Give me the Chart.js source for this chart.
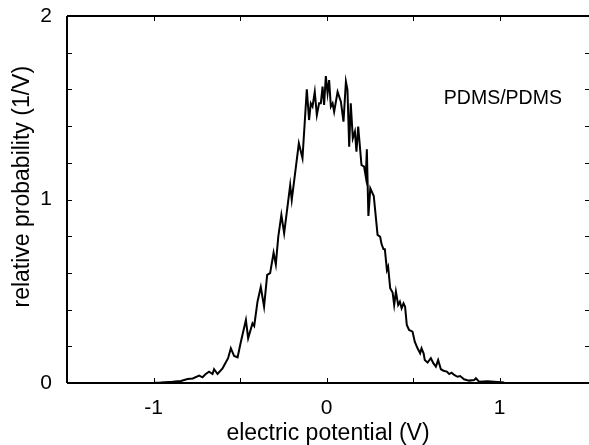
<!DOCTYPE html>
<html>
<head>
<meta charset="utf-8">
<script src="https://cdn.jsdelivr.net/npm/chart.js@4.4.0/dist/chart.umd.min.js"></script>
<style>
  html, body { margin: 0; padding: 0; background: #fff; overflow: hidden; }
  #wrap { width: 589px; height: 445px; position: relative; }
</style>
</head>
<body>
<div id="wrap"><canvas id="c" width="589" height="445"></canvas></div>
<script>
// ---- data ----
const potential = [
  -0.997,-0.958,-0.890,-0.842,-0.803,-0.773,-0.736,-0.717,-0.698,-0.679,
  -0.659,-0.650,-0.630,-0.601,-0.569,-0.553,-0.534,-0.514,-0.495,-0.466,
  -0.453,-0.428,-0.418,-0.399,-0.380,-0.361,-0.343,-0.326,-0.306,-0.293,
  -0.279,-0.261,-0.245,-0.210,-0.201,-0.160,-0.139,-0.114,-0.101,-0.091,
  -0.081,-0.068,-0.056,-0.043,-0.033,-0.023,-0.014,-0.004,0.006,0.015,
  0.025,0.035,0.044,0.064,0.083,0.098,0.112,0.121,0.131,0.140,
  0.152,0.164,0.173,0.183,0.202,0.217,0.227,0.233,0.242,0.253,
  0.273,0.295,0.310,0.318,0.329,0.337,0.349,0.356,0.368,0.382,
  0.391,0.401,0.414,0.424,0.434,0.445,0.454,0.464,0.477,0.497,
  0.510,0.526,0.541,0.549,0.561,0.568,0.584,0.603,0.618,0.632,
  0.645,0.661,0.676,0.695,0.709,0.723,0.738,0.757,0.772,0.795,
  0.824,0.853,0.863,0.882,0.931,0.969,1.027
];
const probability = [
  0.002,0.003,0.007,0.011,0.022,0.025,0.040,0.031,0.049,0.062,
  0.049,0.075,0.049,0.080,0.135,0.189,0.147,0.140,0.225,0.343,
  0.244,0.325,0.311,0.443,0.523,0.416,0.589,0.599,0.710,0.646,
  0.796,0.916,0.816,1.079,0.997,1.306,1.225,1.601,1.433,1.524,
  1.506,1.587,1.460,1.524,1.524,1.615,1.515,1.673,1.579,1.651,
  1.506,1.524,1.478,1.587,1.533,1.424,1.642,1.597,1.288,1.524,
  1.334,1.370,1.261,1.397,1.188,1.179,1.124,1.274,0.910,1.061,
  1.019,0.807,0.797,0.757,0.730,0.729,0.616,0.634,0.516,0.493,
  0.425,0.498,0.425,0.443,0.407,0.434,0.416,0.316,0.289,0.280,
  0.225,0.189,0.162,0.189,0.162,0.125,0.111,0.135,0.107,0.089,
  0.125,0.075,0.067,0.062,0.049,0.056,0.044,0.034,0.038,0.020,
  0.013,0.016,0.026,0.007,0.009,0.007,0.003
];
const xTickValues = [-1, 0, 1];
const yTickValues = [0, 1, 2];
const xMinorTicks = [-1, -0.5, 0, 0.5, 1];
const yMinorTicks = [0.2, 0.4, 0.6, 0.8, 1, 1.2, 1.4, 1.6, 1.8];
const seriesLabel = 'PDMS/PDMS';
const xTitle = 'electric potential (V)';
const yTitle = 'relative probability (1/V)';

const points = potential.map((x, i) => ({ x: x, y: probability[i] }));

const FONT = '"Liberation Sans", Arial, sans-serif';

const framePlugin = {
  id: 'frame',
  afterDraw(chart) {
    const { ctx, chartArea: a, scales } = chart;
    const xs = scales.x, ys = scales.y;
    ctx.save();
    ctx.strokeStyle = '#000';
    ctx.lineWidth = 2;
    ctx.beginPath();
    ctx.moveTo(a.left, a.top); ctx.lineTo(a.right + 2, a.top);
    ctx.moveTo(a.left, a.top); ctx.lineTo(a.left, a.bottom);
    ctx.moveTo(a.left, a.bottom); ctx.lineTo(a.right + 2, a.bottom);
    ctx.moveTo(a.right + 1, a.top); ctx.lineTo(a.right + 1, a.bottom);
    ctx.stroke();
    ctx.lineWidth = 1;
    ctx.beginPath();
    xMinorTicks.forEach(v => {
      const px = Math.round(xs.getPixelForValue(v)) + 0.5;
      ctx.moveTo(px, a.top); ctx.lineTo(px, a.top + 5);
      ctx.moveTo(px, a.bottom); ctx.lineTo(px, a.bottom - 5);
    });
    yMinorTicks.forEach(v => {
      const py = Math.round(ys.getPixelForValue(v)) + 0.5;
      ctx.moveTo(a.left, py); ctx.lineTo(a.left + 5, py);
      ctx.moveTo(a.right + 1, py); ctx.lineTo(a.right - 4, py);
    });
    ctx.stroke();
    // series annotation
    ctx.fillStyle = '#000';
    ctx.font = '19.5px ' + FONT;
    ctx.textAlign = 'left';
    ctx.textBaseline = 'alphabetic';
    ctx.fillText(seriesLabel, xs.getPixelForValue(0.678), ys.getPixelForValue(1.519));
    ctx.restore();
  }
};

new Chart(document.getElementById('c'), {
  type: 'scatter',
  data: {
    datasets: [{
      data: points,
      showLine: true,
      borderColor: '#000',
      borderWidth: 2,
      pointRadius: 0,
      tension: 0,
      fill: false
    }]
  },
  options: {
    responsive: false,
    animation: false,
    devicePixelRatio: 1,
    layout: { padding: { top: 16, right: 0, left: 0, bottom: 0 } },
    plugins: { legend: { display: false }, tooltip: { enabled: false } },
    scales: {
      x: {
        type: 'linear',
        min: -1.5,
        max: 1.517,
        grid: { display: false, drawTicks: false },
        border: { display: false },
        afterBuildTicks: s => { s.ticks = xTickValues.map(v => ({ value: v })); },
        afterFit: s => { s.height = 62; s.paddingLeft = 0; s.paddingRight = 0; },
        ticks: {
          padding: 13,
          color: '#000',
          maxRotation: 0,
          font: { family: FONT, size: 21 },
          callback: v => String(v)
        },
        title: {
          display: true,
          text: xTitle,
          color: '#000',
          padding: { top: 0, bottom: 0 },
          font: { family: FONT, size: 23, lineHeight: 1 }
        }
      },
      y: {
        type: 'linear',
        min: 0,
        max: 2,
        grid: { display: false, drawTicks: false },
        border: { display: false },
        afterBuildTicks: s => { s.ticks = yTickValues.map(v => ({ value: v })); },
        afterFit: s => { s.width = 67; s.paddingTop = 0; s.paddingBottom = 0; },
        ticks: {
          padding: 15,
          color: '#000',
          font: { family: FONT, size: 21 },
          callback: v => String(v)
        },
        title: {
          display: true,
          text: '    ' + yTitle,
          color: '#000',
          padding: { top: 11.5, bottom: 0 },
          font: { family: FONT, size: 23, lineHeight: 1 }
        }
      }
    }
  },
  plugins: [framePlugin]
});
</script>
</body>
</html>
